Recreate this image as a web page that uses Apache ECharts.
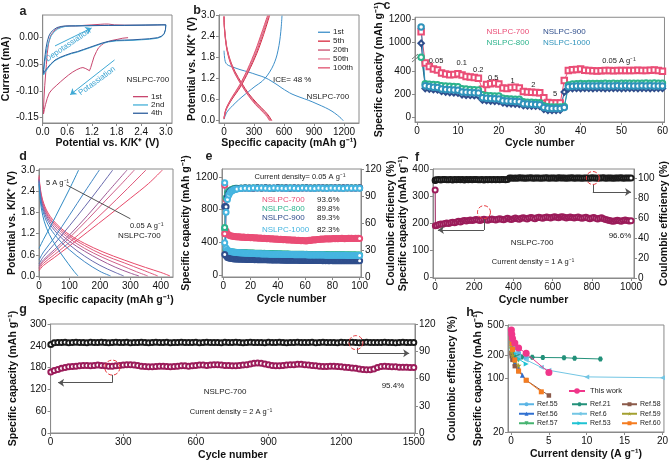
<!DOCTYPE html>
<html><head><meta charset="utf-8">
<script src="https://cdn.jsdelivr.net/npm/echarts@6.0.0/dist/echarts.min.js"></script>
<style>html,body{margin:0;padding:0;background:#fff}#c{width:671px;height:464px}</style>
</head><body><div id="c"></div>
<script>
const FONT = "'Liberation Sans', Arial, Helvetica, sans-serif";
const AX = '#8a8a8a';

// ---------- Panel a : CV curves [V, mA] ----------
const cv1st = [[2.08,0.000],[1.95,-0.001],[1.83,-0.003],[1.70,-0.005],[1.59,-0.0075],[1.50,-0.010],[1.43,-0.014],[1.36,-0.019],[1.31,-0.026],[1.25,-0.036],[1.21,-0.046],[1.17,-0.056],[1.14,-0.062],[1.10,-0.061],[1.05,-0.058],[0.98,-0.056],[0.92,-0.057],[0.83,-0.060],[0.72,-0.065],[0.63,-0.070],[0.52,-0.077],[0.43,-0.083],[0.33,-0.090],[0.23,-0.097],[0.16,-0.104],[0.11,-0.114],[0.07,-0.125],[0.04,-0.135],[0.02,-0.143],[0.015,-0.146],[0.02,-0.135],[0.03,-0.115],[0.05,-0.090],[0.07,-0.070],[0.09,-0.050],[0.11,-0.030],[0.14,-0.012],[0.19,0.003],[0.25,0.010],[0.31,0.015],[0.40,0.019],[0.50,0.021],[0.65,0.022],[0.80,0.022],[1.00,0.023],[1.20,0.024],[1.40,0.025],[1.50,0.0255],[1.60,0.0255],[1.75,0.024],[2.00,0.0235],[2.40,0.0235],[2.80,0.024],[2.95,0.0245],[3.0,0.024]];
const cv2nd = [[3.0,0.024],[2.99,0.014],[2.96,0.007],[2.90,0.002],[2.80,-0.001],[2.60,-0.003],[2.40,-0.004],[2.20,-0.005],[2.00,-0.0055],[1.80,-0.006],[1.60,-0.008],[1.45,-0.011],[1.30,-0.015],[1.15,-0.019],[1.00,-0.023],[0.85,-0.027],[0.70,-0.030],[0.55,-0.034],[0.42,-0.038],[0.30,-0.043],[0.20,-0.050],[0.12,-0.058],[0.06,-0.065],[0.02,-0.070],[0.015,-0.071],[0.03,-0.060],[0.05,-0.046],[0.08,-0.032],[0.11,-0.019],[0.15,-0.007],[0.21,0.004],[0.28,0.011],[0.36,0.016],[0.45,0.019],[0.55,0.021],[0.70,0.022],[1.00,0.0225],[1.40,0.023],[1.80,0.023],[2.30,0.0235],[2.80,0.024],[3.0,0.024]];
const cv4th = [[3.0,0.024],[2.99,0.015],[2.96,0.008],[2.90,0.003],[2.80,0.000],[2.60,-0.002],[2.40,-0.003],[2.20,-0.004],[2.00,-0.0045],[1.80,-0.005],[1.60,-0.007],[1.45,-0.010],[1.30,-0.014],[1.15,-0.018],[1.00,-0.022],[0.85,-0.026],[0.70,-0.029],[0.55,-0.033],[0.42,-0.037],[0.30,-0.042],[0.20,-0.049],[0.12,-0.056],[0.06,-0.062],[0.02,-0.067],[0.015,-0.068],[0.02,-0.060],[0.04,-0.045],[0.06,-0.032],[0.08,-0.020],[0.11,-0.008],[0.15,0.003],[0.20,0.010],[0.27,0.015],[0.35,0.019],[0.45,0.021],[0.55,0.022],[0.80,0.022],[1.20,0.0225],[1.60,0.023],[2.00,0.023],[2.50,0.0235],[2.90,0.024],[3.0,0.024]];
const aXTicks = [0,0.6,1.2,1.8,2.4,3.0];
const aYTicks = [-0.15,-0.10,-0.05,0.00];

// ---------- Panel b : GCD [mAh/g, V] ----------
const b1D = [[0,2.0],[8,1.75],[20,1.64],[44,1.58],[100,1.52],[160,1.46],[245,1.39],[330,1.31],[412,1.23],[480,1.12],[540,1.01],[580,0.93],[630,0.84],[680,0.76],[760,0.67],[848,0.58],[930,0.48],[1016,0.37],[1080,0.27],[1133,0.16],[1170,0.07],[1192,0.0]];
const b1C = [[0,0.04],[30,0.25],[111,0.5],[180,0.68],[245,0.83],[310,0.98],[379,1.12],[430,1.28],[479,1.5],[510,1.7],[530,1.88],[550,2.15],[563,2.41],[573,2.7],[580,3.0]];
const b5D = [[0,2.98],[3,2.75],[10,2.5],[27,2.12],[60,1.75],[111,1.4],[178,1.07],[245,0.78],[329,0.5],[412,0.26],[450,0.13],[478,0.0]];
const b5C = [[0,0.05],[20,0.3],[77,0.6],[161,0.95],[245,1.4],[329,1.93],[396,2.46],[455,3.0]];
const b20D = [[0,2.98],[3,2.72],[10,2.47],[27,2.09],[60,1.72],[111,1.37],[178,1.04],[245,0.75],[325,0.48],[405,0.25],[445,0.12],[468,0.0]];
const b20C = [[0,0.06],[20,0.32],[77,0.62],[160,0.98],[243,1.43],[325,1.97],[390,2.5],[446,3.0]];
const b50D = [[0,2.97],[3,2.7],[10,2.45],[27,2.07],[60,1.7],[111,1.35],[178,1.02],[245,0.73],[320,0.47],[400,0.24],[440,0.11],[462,0.0]];
const b50C = [[0,0.07],[20,0.33],[77,0.64],[158,1.0],[240,1.46],[320,2.0],[385,2.52],[440,3.0]];
const b100D = [[0,2.97],[3,2.68],[10,2.43],[27,2.05],[60,1.68],[111,1.33],[178,1.0],[245,0.71],[315,0.46],[395,0.23],[432,0.11],[455,0.0]];
const b100C = [[0,0.08],[20,0.34],[77,0.66],[156,1.02],[237,1.48],[316,2.02],[380,2.54],[435,3.0]];
const bXTicks = [0,300,600,900,1200];
const bYTicks = [0,0.6,1.2,1.8,2.4,3.0];

// ---------- Panel c : rate performance ----------
const c700 = [1090,470,440,420,410,385,375,370,372,378,368,355,350,345,338,243,285,292,298,290,255,250,258,262,255,225,220,218,216,214,170,128,125,125,124,320,405,412,415,418,408,405,403,402,404,405,406,404,405,407,406,405,406,408,407,406,408,410,405,400];
const c800 = [520,292,288,285,282,275,272,270,268,265,248,245,242,240,238,195,190,188,186,185,165,162,160,158,156,135,132,130,128,126,100,92,90,90,89,95,280,290,292,293,292,293,294,293,294,295,294,295,294,295,296,295,296,295,296,297,296,297,296,296];
const c900 = [990,250,245,240,238,225,220,215,212,210,195,192,190,188,186,150,145,142,140,138,125,120,118,115,113,102,100,98,97,96,70,62,60,62,63,220,248,250,251,250,252,251,250,252,251,250,251,252,251,250,251,252,251,250,252,251,250,251,252,251];
const c1000 = [1130,275,268,262,258,245,242,240,238,236,220,218,215,213,211,170,166,163,161,160,145,142,140,138,136,118,116,114,112,110,85,80,78,78,77,85,265,270,271,272,271,272,271,272,273,272,271,272,273,272,273,272,271,272,273,272,273,272,271,272];
const cXTicks = [0,10,20,30,40,50,60];
const cYTicks = [0,200,400,1000,1200];
const cRates = ['0.05','0.1','0.2','0.5','1','2','5'];

// ---------- Panel d : GCD at different rates ----------
const dRates = ['0.05','0.1','0.2','0.5','1','2','5'];
const dDis = [
 [[0,2.85],[4,2.5],[12,2.15],[30,1.78],[60,1.45],[100,1.17],[150,0.92],[210,0.68],[280,0.45],[350,0.24],[400,0.1],[430,0]],
 [[0,2.8],[4,2.45],[12,2.1],[30,1.72],[60,1.4],[100,1.12],[150,0.86],[210,0.6],[280,0.37],[340,0.17],[390,0]],
 [[0,2.78],[4,2.42],[12,2.06],[30,1.68],[60,1.35],[100,1.06],[150,0.78],[210,0.52],[270,0.3],[320,0.12],[357,0]],
 [[0,2.75],[4,2.38],[12,2.0],[30,1.62],[60,1.28],[100,0.98],[150,0.7],[200,0.46],[250,0.25],[300,0.08],[328,0]],
 [[0,2.72],[4,2.33],[12,1.94],[30,1.55],[60,1.2],[100,0.88],[150,0.56],[200,0.3],[250,0.1],[278,0]],
 [[0,2.68],[4,2.27],[12,1.86],[30,1.45],[60,1.08],[100,0.74],[150,0.4],[200,0.13],[235,0]],
 [[0,2.6],[4,2.15],[12,1.72],[25,1.35],[45,1.0],[70,0.66],[95,0.36],[115,0.13],[128,0]]
];
const dCha = [
 [[0,0.15],[15,0.3],[50,0.52],[100,0.85],[160,1.25],[230,1.72],[300,2.2],[360,2.62],[405,3.0]],
 [[0,0.2],[15,0.36],[50,0.6],[100,0.95],[160,1.4],[220,1.88],[290,2.47],[351,3.0]],
 [[0,0.24],[15,0.42],[50,0.68],[100,1.08],[160,1.6],[220,2.15],[270,2.6],[313,3.0]],
 [[0,0.28],[15,0.46],[50,0.74],[100,1.16],[160,1.72],[220,2.32],[289,3.0]],
 [[0,0.34],[15,0.55],[50,0.9],[100,1.42],[150,1.96],[200,2.52],[242,3.0]],
 [[0,0.45],[15,0.68],[50,1.08],[100,1.72],[150,2.38],[198,3.0]],
 [[0,0.78],[15,1.04],[40,1.44],[70,1.95],[100,2.46],[130,3.0]]
];
const dXTicks = [0,100,200,300,400];
const dYTicks = [0,0.6,1.2,1.8,2.4,3.0];

// ---------- Panel e : cycling at 0.05 A/g ----------
const e700cap = [1100,540,505,490,482,478,475,472,470,468,466,468,464,462,465,461,459,462,458,456,459,455,453,457,452,450,454,449,447,451,446,444,448,443,441,445,440,438,442,437,435,439,434,432,436,431,429,433,428,430,426,430,425,423,427,422,420,424,419,421,418,422,426,424,428,431,429,433,436,434,438,440,437,441,443,440,444,442,445,443,446,444,447,445,448,446,449,447,445,448,446,449,447,450,448,446,449,447,450,448];
const e800cap = [565,310,296,290,286,283,281,280,278,277,276,276,274,275,273,272,273,271,270,271,269,270,268,268,267,268,266,266,265,266,264,265,263,263,262,263,261,261,260,261,259,260,258,258,259,257,257,258,256,256,255,256,255,254,255,254,253,254,253,252,253,252,252,251,252,251,251,250,251,250,250,251,249,250,249,250,249,248,249,248,248,249,248,247,248,247,248,247,247,246,247,246,247,246,246,247,245,246,245,245];
const e900cap = [840,235,215,208,204,201,199,197,196,195,194,195,193,193,192,193,191,191,190,191,189,190,188,189,188,188,187,188,186,187,186,186,185,186,184,185,184,184,183,184,183,183,182,183,182,182,181,182,181,181,180,181,180,180,181,179,180,179,179,180,178,179,178,179,178,178,177,178,177,178,177,177,176,177,176,177,176,176,177,175,176,175,176,175,176,175,175,176,174,175,175,174,175,174,175,174,174,175,174,174];
const e1000cap = [1130,330,305,295,289,285,282,279,277,275,274,273,271,271,269,268,268,266,266,265,264,263,263,262,261,261,260,259,259,258,258,257,257,256,256,255,255,254,254,254,253,253,252,252,252,251,251,251,250,250,250,249,249,249,248,248,248,247,247,247,247,246,246,246,246,245,245,245,245,244,244,244,244,244,243,243,243,243,243,242,242,242,242,242,241,241,241,241,241,241,240,240,240,240,240,240,240,239,239,239];
const eCEcycles = [1,2,3,4,5,6,7,8,9,10,13,16,19,22,25,28,31,34,37,40,43,46,49,52,55,58,61,64,67,70,73,76,79,82,85,88,91,94,97,100];
const e700ce = [48,86,93,95,96.5,97,97.6,98,98.1,98.3,98.6,98.9,98.4,98.7,99.0,98.5,98.8,98.3,98.7,99.1,98.6,98.4,98.9,98.7,98.5,99.0,98.6,98.8,98.4,98.9,98.7,98.5,99.1,98.6,98.8,98.3,98.9,98.7,98.5,99.0];
const e800ce = [55,88,93.5,95.5,96.5,97.2,97.8,98.2,98.5,98.7,99.0,99.2,98.8,99.1,99.3,98.9,99.2,99.0,98.7,99.1,99.3,98.9,99.2,99.0,98.8,99.3,99.1,98.9,99.2,99.0,98.8,99.2,99.3,98.9,99.1,99.0,98.8,99.2,99.1,98.9];
const e900ce = [25,78,89,93,95,96,96.8,97.4,97.8,98.1,98.5,98.8,99.0,98.7,99.1,98.9,99.2,98.8,99.0,99.3,98.9,99.1,98.7,99.2,99.0,98.8,99.3,99.0,98.9,99.2,99.1,98.8,99.0,99.3,98.9,99.1,99.2,98.8,99.0,99.1];
const e1000ce = [38,72,86,91,94,95.5,96.5,97.1,97.5,97.9,98.3,98.6,98.4,98.8,98.5,98.9,98.6,98.3,98.8,98.5,98.7,98.4,98.9,98.6,98.3,98.8,98.5,98.7,98.4,98.9,98.6,98.3,98.8,98.5,98.7,98.4,98.9,98.6,98.5,98.7];
const eRetention = ['93.6%','89.8%','89.3%','82.3%'];
const eXTicks = [0,20,40,60,80,100];
const eYTicks = [0,400,800,1200];
const eY2Ticks = [0,30,60,90,120];

// ---------- Panel f : 1 A/g long cycling ----------
const fCycles = [1,2,10,20,30,40,50,60,70,80,90,100,110,120,130,140,150,160,170,180,190,200,210,220,230,240,250,260,270,280,290,300,310,320,330,340,350,360,370,380,390,400,410,420,430,440,450,460,470,480,490,500,510,520,530,540,550,560,570,580,590,600,610,620,630,640,650,660,670,680,690,700,710,720,730,740,750,760,770,780,790,800,810,820,830,840,850,860,870,880,890,900,910,920,930,940,950,960,970,980,990,1000];
const fCap = [322,190,191,194,196,195,198,200,198,201,203,201,204,206,204,207,209,207,209,211,209,211,213,211,209,212,214,212,210,213,215,213,211,214,216,214,212,215,217,215,213,216,218,216,214,217,219,217,215,218,220,218,216,219,221,219,217,220,222,220,218,221,223,221,219,222,223,221,218,220,222,220,218,220,222,219,217,219,221,218,216,218,220,217,215,217,219,216,213,211,209,207,206,208,210,208,206,209,211,209,207,208];
const fCE = [97.5,98.0,98.2,98.5,98.1,98.4,98.6,98.2,98.3,98.5,98.0,98.4,98.3,98.6,98.2,98.4,98.1,98.5,98.3,98.6,98.2,98.4,98.5,98.2,98.3,98.6,98.1,98.4,98.3,98.5,98.2,98.6,98.3,98.5,98.2,98.4,98.6,98.3,98.5,99.9,100.1,99.8,100.0,99.7,100.2,99.9,100.0,99.8,100.1,99.9,100.2,99.8,100.0,99.9,100.1,99.7,100.0,99.9,100.2,99.8,100.0,100.1,99.9,99.8,100.2,100.0,99.9,100.1,99.8,100.0,99.9,100.2,99.8,100.1,99.9,100.0,99.7,100.1,99.9,100.0,99.8,100.2,99.9,100.1,99.8,100.0,99.9,100.2,99.8,100.0,100.1,99.9,99.8,100.1,100.0,99.9,100.2,99.8,100.0,99.9,100.1,99.9];
const fXTicks = [0,200,400,600,800,1000];
const fYTicks = [0,100,200,300,400];
const fY2Ticks = [0,20,40,60,80,100];

// ---------- Panel g : 2 A/g long cycling ----------
const gCycles = [1,15,30,45,60,75,90,105,120,135,150,165,180,195,210,225,240,255,270,285,300,315,330,345,360,375,390,405,420,435,450,465,480,495,510,525,540,555,570,585,600,615,630,645,660,675,690,705,720,735,750,765,780,795,810,825,840,855,870,885,900,915,930,945,960,975,990,1005,1020,1035,1050,1065,1080,1095,1110,1125,1140,1155,1170,1185,1200,1215,1230,1245,1260,1275,1290,1305,1320,1335,1350,1365,1380,1395,1410,1425,1440,1455,1470,1485,1500];
const gCap = [168,172,175,178,180,182,183,184,185,186,186,185,186,187,186,185,184,184,185,186,187,188,188,187,186,184,183,182,182,183,184,184,183,182,183,184,185,185,184,185,186,187,187,186,187,188,188,187,186,186,185,185,186,187,188,190,192,193,192,190,188,186,185,185,186,187,188,188,189,189,188,187,186,185,184,183,183,184,184,183,182,181,180,179,178,176,175,174,174,176,180,183,184,183,182,182,181,181,181,180,180];
const gCE = [97.5,99.3,99.7,99.5,99.8,99.4,99.6,99.9,99.5,99.7,99.4,99.8,99.6,99.5,99.9,99.6,99.4,99.7,99.8,99.5,99.6,99.9,99.4,99.7,99.5,99.8,99.6,99.4,99.7,99.9,99.5,99.6,99.8,99.4,99.7,99.5,99.9,99.6,99.5,99.7,99.8,99.4,99.6,99.9,99.5,99.7,99.6,99.4,99.8,99.6,99.5,99.9,99.7,99.4,99.6,99.8,99.5,99.7,99.6,99.4,99.8,99.5,99.7,99.9,99.6,99.4,99.7,99.5,99.8,99.6,99.5,99.7,99.9,99.4,99.6,99.8,99.5,99.7,99.6,99.4,99.8,99.6,99.5,99.9,99.7,99.4,99.6,99.8,99.5,99.7,99.6,99.5,99.8,99.6,99.7,99.4,99.6,99.8,99.5,99.6,99.7];
const gXTicks = [0,300,600,900,1200,1500];
const gYTicks = [0,60,120,180,240,300];
const gY2Ticks = [0,30,60,90,120];

// ---------- Panel h : comparison ----------
const hThis = [[0.05,430],[0.1,378],[0.2,332],[0.5,290],[1,250],[2,213],[5,120]];
const hRef55 = [[0.05,370],[0.1,330],[0.2,290],[0.5,250],[1,215],[2,185]];
const hRef56 = [[0.05,240],[0.1,210],[0.2,185],[0.5,160],[1,135],[1.5,110]];
const hRef57 = [[0.05,285],[0.1,255],[0.2,228],[0.5,198],[1,175]];
const hRef21 = [[0.1,245],[0.2,220],[0.5,202],[1,193],[1.4,191],[2.8,190],[4.2,188],[7,187],[8.4,184],[11.8,180]];
const hRef6 = [[0.1,280],[0.2,250],[0.5,215],[1,192],[2,175],[4,140],[5,128],[10,105],[20,102]];
const hRef53 = [[0.05,305],[0.1,272],[0.2,246],[0.5,210],[1,180],[2,155]];
const hRef58 = [[0.05,215],[0.1,195],[0.2,175],[0.5,145],[1,125],[2,95],[5,60]];
const hRef59 = [[0.05,250],[0.1,222],[0.2,200],[0.5,170],[1,148]];
const hRef60 = [[0.05,330],[0.1,282],[0.2,240],[0.5,175],[1,125],[2,95],[4,67]];
const hXTicks = [0,5,10,15,20];
const hYTicks = [20,100,200,500];

// ================= build =================
const zip = (xs, ys) => xs.map((x, i) => [x, ys[i]]);
const cycles60 = c700.map((_, i) => i + 1);
const eCycles = e700cap.map((_, i) => i + 1);

const ax = (extra) => {
  const o = Object.assign({
    type: 'value', scale: false,
    axisLine: {show: true, onZero: false, lineStyle: {color: AX, width: 1}},
    splitLine: {show: false},
    nameLocation: 'middle',
    nameTextStyle: {fontFamily: FONT, fontWeight: 'bold', fontSize: 10.5, color: '#111'}
  }, extra);
  o.axisTick = {show: true, inside: false, length: 3, customValues: extra.ticks, lineStyle: {color: AX}};
  o.axisLabel = {customValues: extra.ticks, formatter: extra.fmt, fontSize: 10, color: '#111', fontFamily: FONT, margin: 4, showMaxLabel: true, showMinLabel: true};
  delete o.ticks; delete o.fmt;
  return o;
};
const f1 = v => Number(v).toFixed(1), f2 = v => Number(v).toFixed(2), f0 = v => String(Math.round(v));

const grids = [
  {left: 40, top: 15, width: 132, height: 108},
  {left: 219, top: 15, width: 140, height: 108},
  {left: 415, top: 15, width: 252, height: 107},
  {left: 39, top: 169, width: 134, height: 108},
  {left: 222, top: 169, width: 139, height: 108},
  {left: 433, top: 169, width: 201, height: 109},
  {left: 39, top: 324, width: 376, height: 109},
  {left: 508, top: 325, width: 157, height: 107}
].map(g => Object.assign({show: true, borderColor: AX, borderWidth: 1, backgroundColor: 'transparent', containLabel: false}, g));

const KK = 'Potential vs. K/K\u207A (V)';
const SC = 'Specific capacity (mAh g\u207B\u00B9)';
const CE = 'Coulombic efficiency (%)';
const CN = 'Cycle number';

const xAxis = [
  ax({gridIndex: 0, min: 0, max: 3.15, ticks: aXTicks, fmt: f1, name: KK, nameGap: 14}),
  ax({gridIndex: 1, min: -50, max: 1350, ticks: bXTicks, fmt: f0, name: SC, nameGap: 14}),
  ax({gridIndex: 2, min: -0.5, max: 60.5, ticks: cXTicks, fmt: f0, name: CN, nameGap: 16}),
  ax({gridIndex: 3, min: 0, max: 440, ticks: dXTicks, fmt: f0, name: SC, nameGap: 18}),
  ax({gridIndex: 4, min: -1, max: 101, ticks: eXTicks, fmt: f0, name: CN, nameGap: 17}),
  ax({gridIndex: 5, min: -10, max: 1015, ticks: fXTicks, fmt: f0, name: CN, nameGap: 17}),
  ax({gridIndex: 6, min: 0, max: 1505, ticks: gXTicks, fmt: f0, name: CN, nameGap: 17}),
  ax({gridIndex: 7, min: -0.4, max: 20.2, ticks: hXTicks, fmt: f0, name: 'Current density (A g\u207B\u00B9)', nameGap: 17})
];
const yAxis = [
  ax({gridIndex: 0, min: -0.16, max: 0.0425, ticks: aYTicks, fmt: f2, name: 'Current (mA)', nameGap: 25}),
  ax({gridIndex: 1, min: -0.066, max: 3.02, ticks: bYTicks, fmt: f1, name: KK, nameGap: 13}),
  ax({gridIndex: 2, min: -40, max: 1215, ticks: cYTicks, fmt: f0, name: SC, nameGap: 25,
      breaks: [{start: 530, end: 880, gap: 2}], breakArea: {show: false, expandOnClick: false}}),
  ax({gridIndex: 3, min: -0.03, max: 3.03, ticks: dYTicks, fmt: f1, name: KK, nameGap: 18}),
  ax({gridIndex: 4, min: -24, max: 1298, ticks: eYTicks, fmt: f0, name: SC, nameGap: 24}),
  ax({gridIndex: 4, min: 0, max: 120, position: 'right', ticks: eY2Ticks, fmt: f0, name: CE, nameGap: 18}),
  ax({gridIndex: 5, min: -4, max: 400, ticks: fYTicks, fmt: f0, name: SC, nameGap: 22}),
  ax({gridIndex: 5, min: 0, max: 109, position: 'right', ticks: fY2Ticks, fmt: f0, name: CE, nameGap: 25}),
  ax({gridIndex: 6, min: 0, max: 300, ticks: gYTicks, fmt: f0, name: SC, nameGap: 20}),
  ax({gridIndex: 6, min: 0, max: 120, position: 'right', ticks: gY2Ticks, fmt: f0, name: CE, nameGap: 22}),
  ax({gridIndex: 7, type: 'log', logBase: 10, min: 20, max: 500, ticks: hYTicks, fmt: f0, name: SC, nameGap: 19})
];

const series = [];
const line = (o) => Object.assign({type: 'line', showSymbol: false, symbol: 'none', lineStyle: {width: 1}, animation: false, z: 3}, o);

// a
const aCol = {'1st': '#c8466e', '2nd': '#45b0d8', '4th': '#2e5f9e'};
const arrowMl = (color, data) => ({silent: true, symbol: ['none', 'arrow'], symbolSize: 6, animation: false,
  label: {show: false}, lineStyle: {color, width: 1, type: 'solid'}, data});
series.push(line({name: 'a:1st', xAxisIndex: 0, yAxisIndex: 0, data: cv1st, color: aCol['1st'], lineStyle: {width: 1, color: aCol['1st']}}));
series.push(line({name: 'a:2nd', xAxisIndex: 0, yAxisIndex: 0, data: cv2nd, color: aCol['2nd'], lineStyle: {width: 1, color: aCol['2nd']},
  markLine: arrowMl('#3fa9d5', [
    [{coord: [0.30, -0.0155]}, {coord: [1.19, 0.0181]}],
    [{coord: [1.75, -0.0418]}, {coord: [0.67, -0.107]}]
  ])}));
series.push(line({name: 'a:4th', xAxisIndex: 0, yAxisIndex: 0, data: cv4th, color: aCol['4th'], lineStyle: {width: 1, color: aCol['4th']}}));

// b
const bSets = [['1st', b1D, b1C, '#3d8fc9'], ['5th', b5D, b5C, '#d7263d'], ['20th', b20D, b20C, '#c94c6e'], ['50th', b50D, b50C, '#e77c95'], ['100th', b100D, b100C, '#e0506e']];
bSets.forEach(([n, D, C, col]) => {
  [D, C].forEach(dd => series.push(line({name: 'b:' + n, xAxisIndex: 1, yAxisIndex: 1, data: dd, smooth: 0.3, color: col, lineStyle: {width: 1, color: col}})));
});

// c
const cCols = {'NSLPC-700': '#ea4d76', 'NSLPC-800': '#2cb38c', 'NSLPC-900': '#2f4e8c', 'NSLPC-1000': '#2f93bb'};
[['NSLPC-700', c700, 'emptyRect'], ['NSLPC-800', c800, 'emptyCircle'], ['NSLPC-900', c900, 'emptyDiamond'], ['NSLPC-1000', c1000, 'emptyCircle']].forEach(([n, d, sym]) => {
  series.push(line({name: n, xAxisIndex: 2, yAxisIndex: 2, data: zip(cycles60, d), showSymbol: true, showAllSymbol: true, symbol: sym, symbolSize: 5.5,
    color: cCols[n], itemStyle: {color: cCols[n], borderWidth: 1.2}, lineStyle: {width: 1, color: cCols[n]}}));
});

// d
const dCols = ['#e84a6a', '#e0577a', '#d0608a', '#a05a96', '#6a6aae', '#3f86c4', '#2e8ac4'];
dRates.forEach((r, i) => {
  series.push(line({name: 'd-dis-' + r, xAxisIndex: 3, yAxisIndex: 3, data: dDis[i], smooth: 0.35, color: dCols[i], lineStyle: {width: 1, color: dCols[i]}}));
  series.push(line({name: 'd-cha-' + r, xAxisIndex: 3, yAxisIndex: 3, data: dCha[i], smooth: 0.35, color: dCols[i], lineStyle: {width: 1, color: dCols[i]},
    markLine: i === 0 ? {silent: true, symbol: ['none', 'none'], animation: false, label: {show: false},
      lineStyle: {color: '#555', width: 1, type: 'solid', curveness: -0.25}, data: [[{coord: [90, 2.58]}, {coord: [300, 1.62]}]]} : undefined}));
});

// e
const eCols = ['#ea4d76', '#2cb38c', '#2f4e8c', '#45b5e0'];
const eNames = ['NSLPC-700', 'NSLPC-800', 'NSLPC-900', 'NSLPC-1000'];
[e700cap, e800cap, e900cap, e1000cap].forEach((d, i) => {
  series.push(line({name: 'e-cap-' + eNames[i], xAxisIndex: 4, yAxisIndex: 4, data: zip(eCycles, d), showSymbol: true, showAllSymbol: true, symbol: 'emptyCircle', symbolSize: 5,
    color: eCols[i], itemStyle: {color: eCols[i], borderWidth: 1}, lineStyle: {width: 1, color: eCols[i]}}));
});
[e700ce, e800ce, e900ce, e1000ce].forEach((d, i) => {
  series.push(line({name: 'e-ce-' + eNames[i], xAxisIndex: 4, yAxisIndex: 5, data: zip(eCEcycles, d), showSymbol: true, showAllSymbol: true, symbol: 'emptyCircle', symbolSize: 5,
    color: eCols[i], itemStyle: {color: eCols[i], borderWidth: 1}, lineStyle: {width: 1, color: eCols[i]}}));
});

// f
const CAPC = '#9b1c5a', CEC = '#1a1a1a';
const circMp = (coord, size) => ({silent: true, animation: false, symbol: 'circle', symbolSize: size, label: {show: false},
  itemStyle: {color: 'rgba(0,0,0,0)', borderColor: '#e8393e', borderWidth: 1, borderType: 'dashed'}, data: [{coord}]});
const elbow = (p1, p2, p3) => ({silent: true, animation: false, label: {show: false}, symbolSize: 6,
  lineStyle: {color: '#555', width: 1, type: 'solid'},
  data: [[{coord: p1, symbol: 'none'}, {coord: p2, symbol: 'none'}], [{coord: p2, symbol: 'none'}, {coord: p3, symbol: 'arrow'}]]});
series.push(line({name: 'f-cap', xAxisIndex: 5, yAxisIndex: 6, data: zip(fCycles, fCap), showSymbol: true, showAllSymbol: true, symbol: 'emptyCircle', symbolSize: 5,
  color: CAPC, itemStyle: {color: CAPC, borderWidth: 1}, lineStyle: {width: 1, color: CAPC},
  markPoint: circMp([250, 240], 13), markLine: elbow([250, 217], [250, 174], [15, 174])}));
series.push(line({name: 'f-ce', xAxisIndex: 5, yAxisIndex: 7, data: zip(fCycles, fCE), showSymbol: true, showAllSymbol: true, symbol: 'emptyCircle', symbolSize: 5,
  color: CEC, itemStyle: {color: CEC, borderWidth: 1}, lineStyle: {width: 1, color: CEC},
  markPoint: circMp([805, 100], 13), markLine: elbow([805, 93.5], [805, 86], [1000, 86])}));

// g
series.push(line({name: 'g-cap', xAxisIndex: 6, yAxisIndex: 8, data: zip(gCycles, gCap), showSymbol: true, showAllSymbol: true, symbol: 'emptyCircle', symbolSize: 5,
  color: CAPC, itemStyle: {color: CAPC, borderWidth: 1}, lineStyle: {width: 1, color: CAPC},
  markPoint: circMp([255, 180], 15), markLine: elbow([255, 160], [255, 138.5], [31, 138.5])}));
series.push(line({name: 'g-ce', xAxisIndex: 6, yAxisIndex: 9, data: zip(gCycles, gCE), showSymbol: true, showAllSymbol: true, symbol: 'emptyCircle', symbolSize: 5,
  color: CEC, itemStyle: {color: CEC, borderWidth: 1}, lineStyle: {width: 1, color: CEC},
  markPoint: circMp([1261, 99.5], 14), markLine: elbow([1268, 94], [1268, 87.8], [1481, 87.8])}));

// h
const STAR = 'path://M50,0L61,35L98,35L68,57L79,91L50,70L21,91L32,57L2,35L39,35Z';
const HEX = 'path://M25,0L75,0L100,43L75,86L25,86L0,43Z';
const hSets = [
  ['This work', hThis, 'circle', '#f0368a', 7, 0],
  ['Ref.55', hRef55, 'circle', '#5bb5e5', 5, 0],
  ['Ref.56', hRef56, 'triangle', '#2f6fd0', 5, 0],
  ['Ref.57', hRef57, 'triangle', '#45b36f', 5, 180],
  ['Ref.21', hRef21, HEX, '#23917a', 5, 0],
  ['Ref.6', hRef6, 'triangle', '#73c6e4', 5, 90],
  ['Ref.53', hRef53, 'triangle', '#1fc3d3', 5, -90],
  ['Ref.58', hRef58, 'rect', '#8b5a4a', 4.5, 0],
  ['Ref.59', hRef59, STAR, '#a3a030', 6, 0],
  ['Ref.60', hRef60, 'rect', '#f57c20', 5, 0]
];
hSets.forEach(([n, d, sym, col, sz, rot]) => {
  series.push(line({name: n, xAxisIndex: 7, yAxisIndex: 10, data: d, showSymbol: true, showAllSymbol: true, symbol: sym, symbolSize: sz, symbolRotate: rot,
    color: col, itemStyle: {color: col}, lineStyle: {width: 1, color: col}, z: n === 'This work' ? 5 : 3}));
});

// legends
const lg = (o) => Object.assign({orient: 'vertical', selectedMode: false, padding: 0, itemGap: 0,
  formatter: n => n.replace(/^[ab]:/, '')}, o);
const lineIcon = n => ({name: n, icon: 'rect'});
const legend = [
  lg({data: ['a:1st', 'a:2nd', 'a:4th'].map(lineIcon), left: 133, top: 92.5, itemWidth: 15, itemHeight: 1.3, textStyle: {fontSize: 8, lineHeight: 8.3, fontFamily: FONT, color: '#222', padding: [0, 0, 0, -2]}}),
  lg({data: ['b:1st', 'b:5th', 'b:20th', 'b:50th', 'b:100th'].map(lineIcon), left: 318, top: 27.8, itemWidth: 12, itemHeight: 1.3, textStyle: {fontSize: 8, lineHeight: 8.9, fontFamily: FONT, color: '#222', padding: [0, 0, 0, -2]}}),
  lg({data: ['This work'], left: 568, top: 386.5, itemWidth: 16, itemHeight: 7, textStyle: {fontSize: 7.5, lineHeight: 9, fontFamily: FONT, color: '#222'}}),
  lg({data: ['Ref.55', 'Ref.56', 'Ref.57'], left: 518, top: 399.5, itemWidth: 15, itemHeight: 5, textStyle: {fontSize: 7, lineHeight: 9.5, fontFamily: FONT, color: '#222', padding: [0, 0, 0, -2]}}),
  lg({data: ['Ref.21', 'Ref.6', 'Ref.53'], left: 571, top: 399.5, itemWidth: 15, itemHeight: 5, textStyle: {fontSize: 7, lineHeight: 9.5, fontFamily: FONT, color: '#222', padding: [0, 0, 0, -2]}}),
  lg({data: ['Ref.58', 'Ref.59', 'Ref.60'], left: 621, top: 399.5, itemWidth: 15, itemHeight: 5, textStyle: {fontSize: 7, lineHeight: 9.5, fontFamily: FONT, color: '#222', padding: [0, 0, 0, -2]}})
];

// annotation texts
const T = (x, y, s, o) => { o = o || {}; const al = o.align || 'left';
  return {type: 'text', x, y, rotation: o.rot || 0, z: 100, silent: true,
    style: {text: s, fill: o.color || '#222', font: (o.bold ? 'bold ' : '') + (o.size || 8) + 'px ' + FONT,
      textAlign: al, align: al, textVerticalAlign: 'middle', verticalAlign: 'middle'}}; };
const graphic = [
  T(23, 12, 'a', {bold: 1, size: 12.5, align: 'center'}), T(197, 11, 'b', {bold: 1, size: 12.5, align: 'center'}),
  T(387, 6, 'c', {bold: 1, size: 12.5, align: 'center'}), T(23, 157, 'd', {bold: 1, size: 12.5, align: 'center'}),
  T(209, 157, 'e', {bold: 1, size: 12.5, align: 'center'}), T(417, 158, 'f', {bold: 1, size: 12.5, align: 'center'}),
  T(23, 310, 'g', {bold: 1, size: 12.5, align: 'center'}), T(470, 313, 'h', {bold: 1, size: 12.5, align: 'center'}),
  // a
  T(126.5, 80, 'NSLPC-700', {size: 8}),
  T(68, 45, 'Depotassiation', {size: 8, color: '#3aa3d2', align: 'center', rot: 0.6}),
  T(97, 81, 'Potassiation', {size: 8, color: '#3aa3d2', align: 'center', rot: 0.63}),
  // b
  T(273, 79.5, 'ICE= 48 %', {size: 8}), T(306.5, 96.7, 'NSLPC-700', {size: 8}),
  // c
  T(486.5, 32, 'NSLPC-700', {size: 8, color: cCols['NSLPC-700']}), T(543, 32, 'NSLPC-900', {size: 8, color: cCols['NSLPC-900']}),
  T(486.5, 43, 'NSLPC-800', {size: 8, color: cCols['NSLPC-800']}), T(543, 43, 'NSLPC-1000', {size: 8, color: cCols['NSLPC-1000']}),
  T(436, 61, cRates[0], {size: 7.5, align: 'center'}), T(461.7, 62.7, cRates[1], {size: 7.5, align: 'center'}),
  T(478.3, 70, cRates[2], {size: 7.5, align: 'center'}), T(493.3, 78.3, cRates[3], {size: 7.5, align: 'center'}),
  T(512.7, 81, cRates[4], {size: 7.5, align: 'center'}), T(533.3, 85, cRates[5], {size: 7.5, align: 'center'}),
  T(555, 94, cRates[6], {size: 7.5, align: 'center'}), T(619, 61, '0.05 A g\u207B\u00B9', {size: 7.5, align: 'center'}),
  // d
  T(46, 183, dRates[6] + ' A g\u207B\u00B9', {size: 7.5}), T(130, 225.5, dRates[0] + ' A g\u207B\u00B9', {size: 7.5}),
  T(118, 236, 'NSLPC-700', {size: 8}),
  // e
  T(300, 177, 'Current density= 0.05 A g\u207B\u00B9', {size: 7.5, align: 'center'}),
  T(262, 199.5, eNames[0], {size: 8, color: eCols[0]}), T(317, 199.5, eRetention[0], {size: 8}),
  T(262, 208.5, eNames[1], {size: 8, color: eCols[1]}), T(317, 208.5, eRetention[1], {size: 8}),
  T(262, 218, eNames[2], {size: 8, color: eCols[2]}), T(317, 218, eRetention[2], {size: 8}),
  T(262, 230, eNames[3], {size: 8, color: eCols[3]}), T(317, 230, eRetention[3], {size: 8}),
  // f
  T(532, 243, 'NSLPC-700', {size: 8, align: 'center'}), T(533, 262, 'Current density = 1 A g\u207B\u00B9', {size: 7.5, align: 'center'}),
  T(620, 236, '96.6%', {size: 8, align: 'center'}),
  // g
  T(225, 392, 'NSLPC-700', {size: 8, align: 'center'}), T(231, 412, 'Current density = 2 A g\u207B\u00B9', {size: 7.5, align: 'center'}),
  T(393, 386, '95.4%', {size: 8, align: 'center'}),
  // axis-break marks on panel c
  {type: 'line', silent: true, z: 100, shape: {x1: 412, y1: 59, x2: 418, y2: 54}, style: {stroke: '#777', lineWidth: 1}},
  {type: 'line', silent: true, z: 100, shape: {x1: 412, y1: 62, x2: 418, y2: 57}, style: {stroke: '#777', lineWidth: 1}}
];

const chart = echarts.init(document.getElementById('c'), null, {renderer: 'canvas', width: 671, height: 464});
chart.setOption({
  backgroundColor: '#fff', animation: false,
  textStyle: {fontFamily: FONT},
  grid: grids, xAxis, yAxis, series, legend, graphic
});
</script></body></html>
